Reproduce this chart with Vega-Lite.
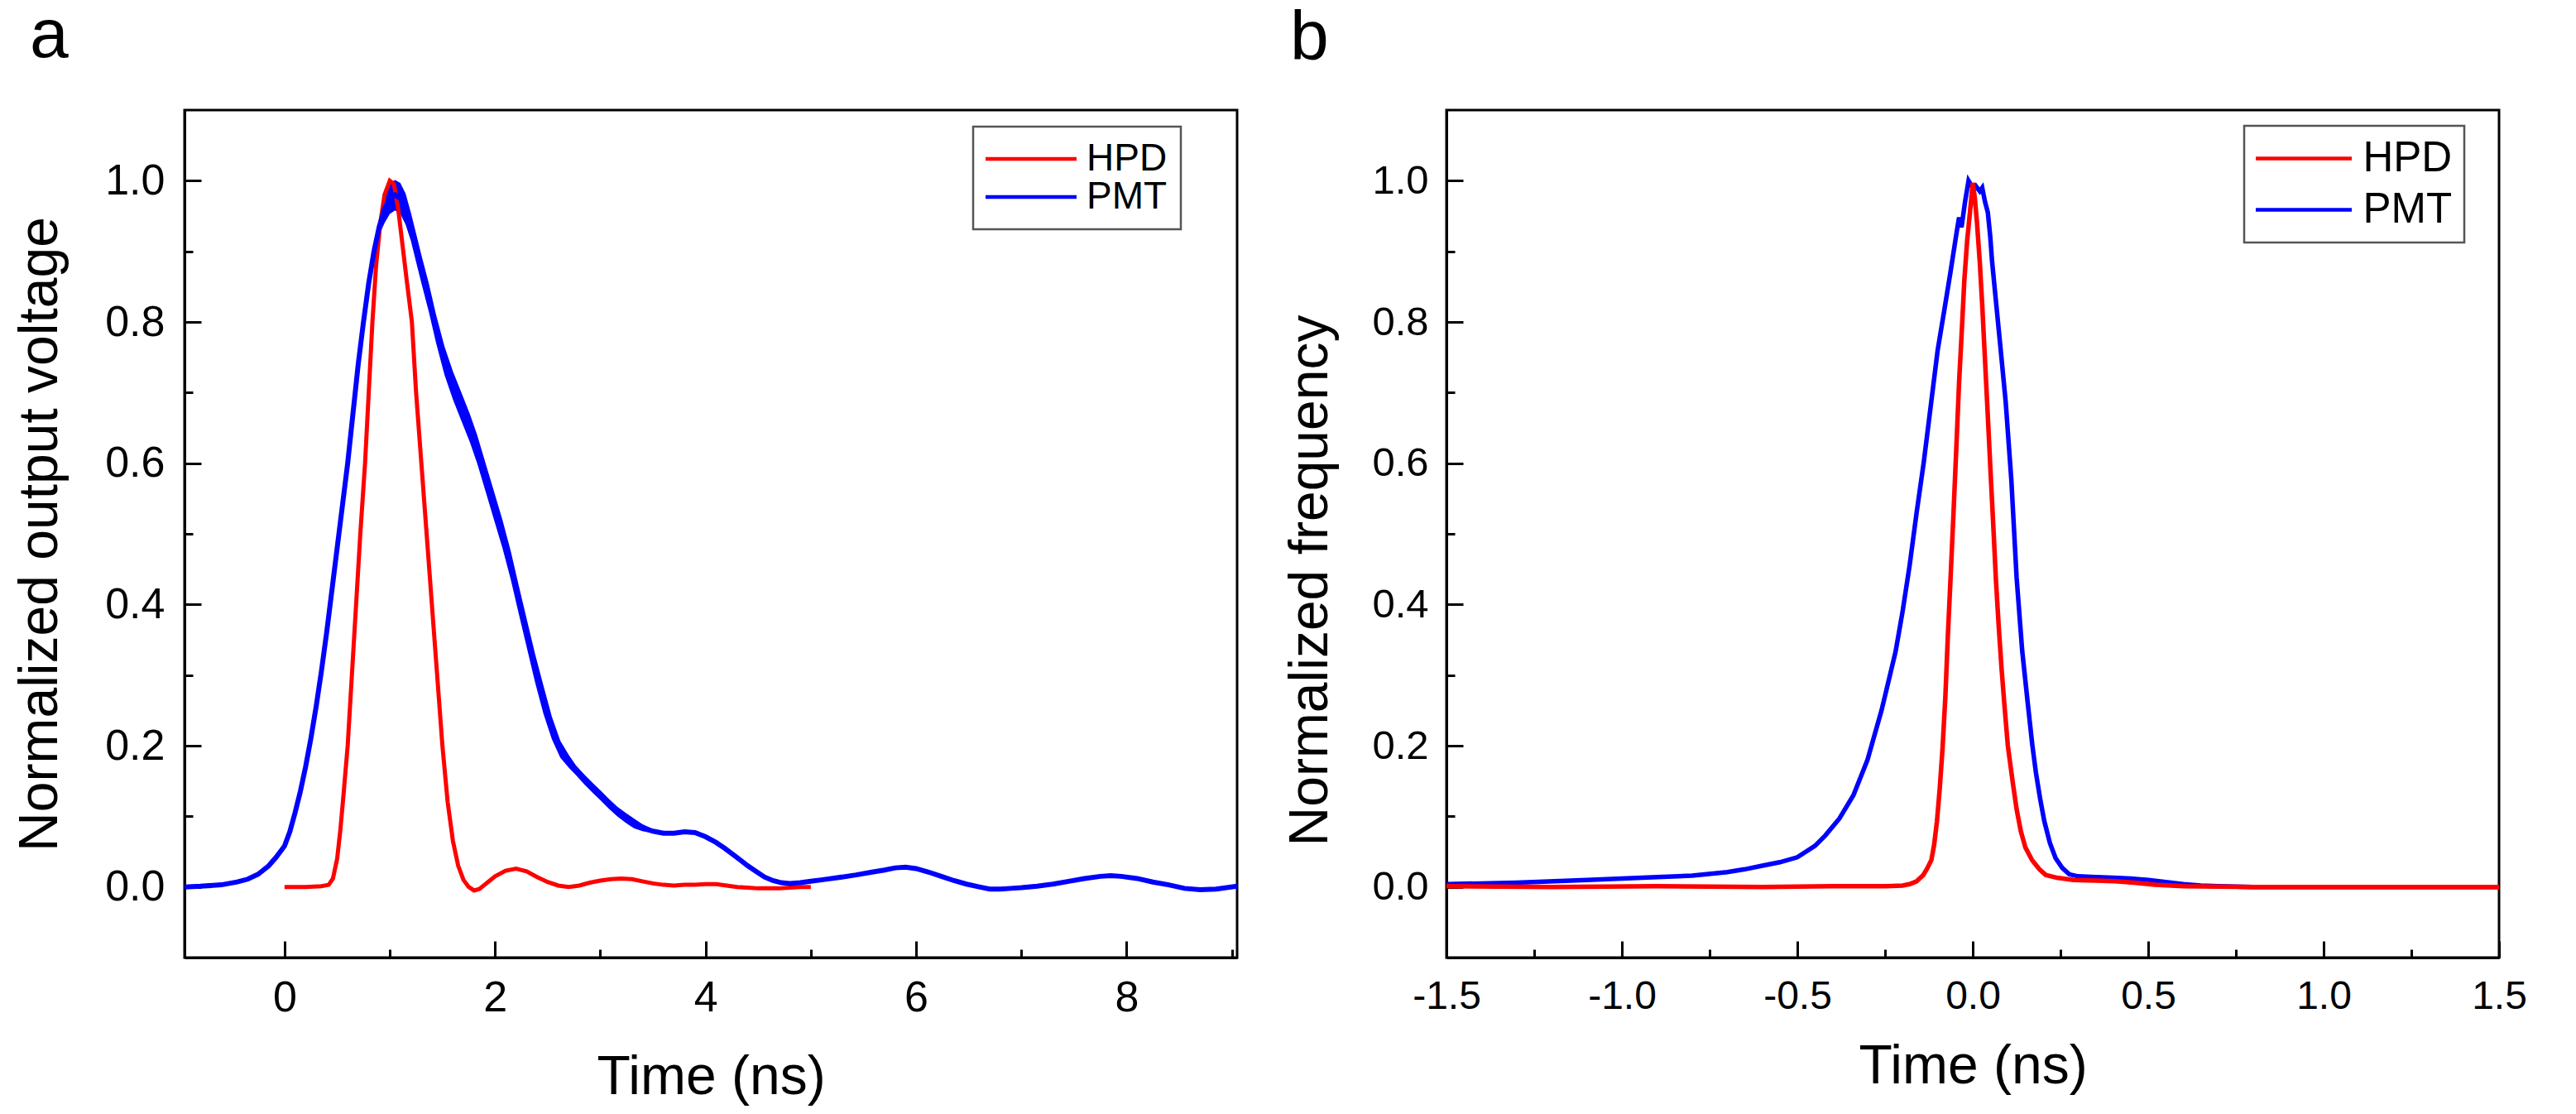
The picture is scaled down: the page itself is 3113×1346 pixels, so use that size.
{
  "$schema": "https://vega.github.io/schema/vega-lite/v6.json",
  "background": "white",
  "padding": {"left": 13, "top": 0, "right": 10, "bottom": 0},
  "config": {
    "view": {"stroke": "black", "strokeWidth": 3},
    "axis": {
      "grid": false,
      "domainColor": "black",
      "domainWidth": 3,
      "tickColor": "black",
      "tickWidth": 3,
      "labelFont": "Liberation Sans",
      "labelColor": "black",
      "labelFlush": false,
      "labelOverlap": false,
      "titleFont": "Liberation Sans",
      "titleColor": "black",
      "titleFontWeight": "normal"
    },
    "legend": {
      "labelFont": "Liberation Sans",
      "labelColor": "black",
      "strokeColor": "#555555"
    },
    "title": {
      "font": "Liberation Sans",
      "fontSize": 84,
      "fontWeight": "normal",
      "color": "black",
      "anchor": "start",
      "frame": "group",
      "baseline": "alphabetic"
    }
  },
  "datasets": {
    "a_lines": [
      {"t": 0, "v": 0, "det": "HPD"},
      {"t": 0.2, "v": 0, "det": "HPD"},
      {"t": 0.35, "v": 0.001, "det": "HPD"},
      {"t": 0.42, "v": 0.003, "det": "HPD"},
      {"t": 0.46, "v": 0.012, "det": "HPD"},
      {"t": 0.5, "v": 0.04, "det": "HPD"},
      {"t": 0.53, "v": 0.08, "det": "HPD"},
      {"t": 0.56, "v": 0.13, "det": "HPD"},
      {"t": 0.6, "v": 0.2, "det": "HPD"},
      {"t": 0.64, "v": 0.3, "det": "HPD"},
      {"t": 0.68, "v": 0.4, "det": "HPD"},
      {"t": 0.72, "v": 0.5, "det": "HPD"},
      {"t": 0.765, "v": 0.6, "det": "HPD"},
      {"t": 0.8, "v": 0.7, "det": "HPD"},
      {"t": 0.835, "v": 0.8, "det": "HPD"},
      {"t": 0.87, "v": 0.88, "det": "HPD"},
      {"t": 0.91, "v": 0.94, "det": "HPD"},
      {"t": 0.95, "v": 0.98, "det": "HPD"},
      {"t": 1.0, "v": 1.0, "det": "HPD"},
      {"t": 1.04, "v": 0.995, "det": "HPD"},
      {"t": 1.08, "v": 0.96, "det": "HPD"},
      {"t": 1.12, "v": 0.91, "det": "HPD"},
      {"t": 1.16, "v": 0.86, "det": "HPD"},
      {"t": 1.21, "v": 0.8, "det": "HPD"},
      {"t": 1.25, "v": 0.7, "det": "HPD"},
      {"t": 1.3, "v": 0.6, "det": "HPD"},
      {"t": 1.35, "v": 0.5, "det": "HPD"},
      {"t": 1.4, "v": 0.4, "det": "HPD"},
      {"t": 1.45, "v": 0.3, "det": "HPD"},
      {"t": 1.5, "v": 0.2, "det": "HPD"},
      {"t": 1.55, "v": 0.12, "det": "HPD"},
      {"t": 1.6, "v": 0.065, "det": "HPD"},
      {"t": 1.65, "v": 0.03, "det": "HPD"},
      {"t": 1.7, "v": 0.01, "det": "HPD"},
      {"t": 1.75, "v": 0.0, "det": "HPD"},
      {"t": 1.8, "v": -0.005, "det": "HPD"},
      {"t": 1.85, "v": -0.003, "det": "HPD"},
      {"t": 1.9, "v": 0.003, "det": "HPD"},
      {"t": 1.95, "v": 0.009, "det": "HPD"},
      {"t": 2.0, "v": 0.015, "det": "HPD"},
      {"t": 2.1, "v": 0.023, "det": "HPD"},
      {"t": 2.2, "v": 0.026, "det": "HPD"},
      {"t": 2.3, "v": 0.022, "det": "HPD"},
      {"t": 2.4, "v": 0.014, "det": "HPD"},
      {"t": 2.5, "v": 0.007, "det": "HPD"},
      {"t": 2.6, "v": 0.002, "det": "HPD"},
      {"t": 2.7, "v": 0.0, "det": "HPD"},
      {"t": 2.8, "v": 0.002, "det": "HPD"},
      {"t": 2.9, "v": 0.006, "det": "HPD"},
      {"t": 3.0, "v": 0.009, "det": "HPD"},
      {"t": 3.1, "v": 0.011, "det": "HPD"},
      {"t": 3.2, "v": 0.012, "det": "HPD"},
      {"t": 3.3, "v": 0.011, "det": "HPD"},
      {"t": 3.4, "v": 0.008, "det": "HPD"},
      {"t": 3.5, "v": 0.005, "det": "HPD"},
      {"t": 3.6, "v": 0.003, "det": "HPD"},
      {"t": 3.7, "v": 0.002, "det": "HPD"},
      {"t": 3.8, "v": 0.003, "det": "HPD"},
      {"t": 3.9, "v": 0.003, "det": "HPD"},
      {"t": 4.0, "v": 0.004, "det": "HPD"},
      {"t": 4.1, "v": 0.004, "det": "HPD"},
      {"t": 4.2, "v": 0.002, "det": "HPD"},
      {"t": 4.3, "v": 0.0, "det": "HPD"},
      {"t": 4.4, "v": -0.001, "det": "HPD"},
      {"t": 4.5, "v": -0.002, "det": "HPD"},
      {"t": 4.6, "v": -0.002, "det": "HPD"},
      {"t": 4.7, "v": -0.002, "det": "HPD"},
      {"t": 4.8, "v": -0.001, "det": "HPD"},
      {"t": 4.9, "v": 0.0, "det": "HPD"},
      {"t": 5.0, "v": 0.0, "det": "HPD"},
      {"t": -0.95, "v": 0.0, "det": "PMT"},
      {"t": -0.8, "v": 0.001, "det": "PMT"},
      {"t": -0.6, "v": 0.003, "det": "PMT"},
      {"t": -0.45, "v": 0.007, "det": "PMT"},
      {"t": -0.35, "v": 0.011, "det": "PMT"},
      {"t": -0.25, "v": 0.018, "det": "PMT"},
      {"t": -0.15, "v": 0.03, "det": "PMT"},
      {"t": -0.08, "v": 0.042, "det": "PMT"},
      {"t": 0.0, "v": 0.058, "det": "PMT"},
      {"t": 0.05, "v": 0.078, "det": "PMT"},
      {"t": 0.1, "v": 0.105, "det": "PMT"},
      {"t": 0.15, "v": 0.135, "det": "PMT"},
      {"t": 0.2, "v": 0.17, "det": "PMT"},
      {"t": 0.25, "v": 0.21, "det": "PMT"},
      {"t": 0.3, "v": 0.255, "det": "PMT"},
      {"t": 0.35, "v": 0.305, "det": "PMT"},
      {"t": 0.4, "v": 0.36, "det": "PMT"},
      {"t": 0.45, "v": 0.42, "det": "PMT"},
      {"t": 0.5, "v": 0.48, "det": "PMT"},
      {"t": 0.55, "v": 0.54, "det": "PMT"},
      {"t": 0.6, "v": 0.6, "det": "PMT"},
      {"t": 0.65, "v": 0.67, "det": "PMT"},
      {"t": 0.7, "v": 0.74, "det": "PMT"},
      {"t": 0.75, "v": 0.8, "det": "PMT"},
      {"t": 0.8, "v": 0.855, "det": "PMT"},
      {"t": 0.85, "v": 0.9, "det": "PMT"},
      {"t": 0.9, "v": 0.935, "det": "PMT"},
      {"t": 0.95, "v": 0.96, "det": "PMT"},
      {"t": 1.0, "v": 0.975, "det": "PMT"},
      {"t": 1.05, "v": 0.98, "det": "PMT"},
      {"t": 1.1, "v": 0.975, "det": "PMT"},
      {"t": 1.15, "v": 0.96, "det": "PMT"},
      {"t": 1.2, "v": 0.935, "det": "PMT"},
      {"t": 1.25, "v": 0.905, "det": "PMT"},
      {"t": 1.3, "v": 0.875, "det": "PMT"},
      {"t": 1.37, "v": 0.835, "det": "PMT"},
      {"t": 1.44, "v": 0.79, "det": "PMT"},
      {"t": 1.52, "v": 0.745, "det": "PMT"},
      {"t": 1.6, "v": 0.71, "det": "PMT"},
      {"t": 1.68, "v": 0.68, "det": "PMT"},
      {"t": 1.76, "v": 0.65, "det": "PMT"},
      {"t": 1.83, "v": 0.62, "det": "PMT"},
      {"t": 1.91, "v": 0.58, "det": "PMT"},
      {"t": 1.99, "v": 0.54, "det": "PMT"},
      {"t": 2.07, "v": 0.5, "det": "PMT"},
      {"t": 2.15, "v": 0.455, "det": "PMT"},
      {"t": 2.22, "v": 0.41, "det": "PMT"},
      {"t": 2.3, "v": 0.36, "det": "PMT"},
      {"t": 2.38, "v": 0.31, "det": "PMT"},
      {"t": 2.46, "v": 0.265, "det": "PMT"},
      {"t": 2.54, "v": 0.225, "det": "PMT"},
      {"t": 2.62, "v": 0.195, "det": "PMT"},
      {"t": 2.7, "v": 0.178, "det": "PMT"},
      {"t": 2.77, "v": 0.165, "det": "PMT"},
      {"t": 2.85, "v": 0.152, "det": "PMT"},
      {"t": 2.93, "v": 0.14, "det": "PMT"},
      {"t": 3.0, "v": 0.13, "det": "PMT"},
      {"t": 3.08, "v": 0.118, "det": "PMT"},
      {"t": 3.16, "v": 0.107, "det": "PMT"},
      {"t": 3.24, "v": 0.098, "det": "PMT"},
      {"t": 3.32, "v": 0.09, "det": "PMT"},
      {"t": 3.4, "v": 0.084, "det": "PMT"},
      {"t": 3.5, "v": 0.079, "det": "PMT"},
      {"t": 3.6, "v": 0.076, "det": "PMT"},
      {"t": 3.7, "v": 0.076, "det": "PMT"},
      {"t": 3.8, "v": 0.078, "det": "PMT"},
      {"t": 3.9, "v": 0.077, "det": "PMT"},
      {"t": 4.0, "v": 0.071, "det": "PMT"},
      {"t": 4.1, "v": 0.063, "det": "PMT"},
      {"t": 4.18, "v": 0.055, "det": "PMT"},
      {"t": 4.26, "v": 0.046, "det": "PMT"},
      {"t": 4.33, "v": 0.038, "det": "PMT"},
      {"t": 4.4, "v": 0.03, "det": "PMT"},
      {"t": 4.49, "v": 0.021, "det": "PMT"},
      {"t": 4.56, "v": 0.014, "det": "PMT"},
      {"t": 4.64, "v": 0.009, "det": "PMT"},
      {"t": 4.72, "v": 0.006, "det": "PMT"},
      {"t": 4.8, "v": 0.005, "det": "PMT"},
      {"t": 4.9, "v": 0.006, "det": "PMT"},
      {"t": 5.0, "v": 0.008, "det": "PMT"},
      {"t": 5.1, "v": 0.01, "det": "PMT"},
      {"t": 5.25, "v": 0.013, "det": "PMT"},
      {"t": 5.43, "v": 0.017, "det": "PMT"},
      {"t": 5.58, "v": 0.021, "det": "PMT"},
      {"t": 5.7, "v": 0.024, "det": "PMT"},
      {"t": 5.8, "v": 0.027, "det": "PMT"},
      {"t": 5.9, "v": 0.028, "det": "PMT"},
      {"t": 6.0, "v": 0.026, "det": "PMT"},
      {"t": 6.12, "v": 0.021, "det": "PMT"},
      {"t": 6.24, "v": 0.015, "det": "PMT"},
      {"t": 6.36, "v": 0.009, "det": "PMT"},
      {"t": 6.48, "v": 0.004, "det": "PMT"},
      {"t": 6.6, "v": 0.0, "det": "PMT"},
      {"t": 6.7, "v": -0.003, "det": "PMT"},
      {"t": 6.8, "v": -0.003, "det": "PMT"},
      {"t": 6.9, "v": -0.002, "det": "PMT"},
      {"t": 7.0, "v": -0.001, "det": "PMT"},
      {"t": 7.15, "v": 0.001, "det": "PMT"},
      {"t": 7.3, "v": 0.004, "det": "PMT"},
      {"t": 7.45, "v": 0.008, "det": "PMT"},
      {"t": 7.6, "v": 0.012, "det": "PMT"},
      {"t": 7.75, "v": 0.015, "det": "PMT"},
      {"t": 7.85, "v": 0.016, "det": "PMT"},
      {"t": 7.95, "v": 0.015, "det": "PMT"},
      {"t": 8.1, "v": 0.012, "det": "PMT"},
      {"t": 8.25, "v": 0.007, "det": "PMT"},
      {"t": 8.4, "v": 0.003, "det": "PMT"},
      {"t": 8.55, "v": -0.002, "det": "PMT"},
      {"t": 8.7, "v": -0.004, "det": "PMT"},
      {"t": 8.85, "v": -0.003, "det": "PMT"},
      {"t": 9.05, "v": 0.001, "det": "PMT"}
    ],
    "a_band": [
      {"t": 0.85, "v": 0.9, "v2": 0.9},
      {"t": 0.9, "v": 0.923, "v2": 0.947},
      {"t": 0.95, "v": 0.94, "v2": 0.98},
      {"t": 1.0, "v": 0.953, "v2": 0.997},
      {"t": 1.05, "v": 0.958, "v2": 1.001},
      {"t": 1.1, "v": 0.953, "v2": 0.997},
      {"t": 1.15, "v": 0.938, "v2": 0.982},
      {"t": 1.2, "v": 0.915, "v2": 0.955},
      {"t": 1.25, "v": 0.885, "v2": 0.925},
      {"t": 1.3, "v": 0.855, "v2": 0.895},
      {"t": 1.37, "v": 0.815, "v2": 0.855},
      {"t": 1.44, "v": 0.77, "v2": 0.81},
      {"t": 1.52, "v": 0.725, "v2": 0.765},
      {"t": 1.6, "v": 0.69, "v2": 0.73},
      {"t": 1.68, "v": 0.66, "v2": 0.7},
      {"t": 1.76, "v": 0.63, "v2": 0.67},
      {"t": 1.83, "v": 0.6, "v2": 0.64},
      {"t": 1.91, "v": 0.56, "v2": 0.6},
      {"t": 1.99, "v": 0.52, "v2": 0.56},
      {"t": 2.07, "v": 0.48, "v2": 0.52},
      {"t": 2.15, "v": 0.435, "v2": 0.475},
      {"t": 2.22, "v": 0.39, "v2": 0.43},
      {"t": 2.3, "v": 0.34, "v2": 0.38},
      {"t": 2.38, "v": 0.29, "v2": 0.33},
      {"t": 2.46, "v": 0.245, "v2": 0.285},
      {"t": 2.54, "v": 0.209, "v2": 0.241},
      {"t": 2.62, "v": 0.183, "v2": 0.207},
      {"t": 2.7, "v": 0.169, "v2": 0.187},
      {"t": 2.77, "v": 0.158, "v2": 0.172},
      {"t": 2.85, "v": 0.145, "v2": 0.159},
      {"t": 2.93, "v": 0.133, "v2": 0.147},
      {"t": 3.0, "v": 0.123, "v2": 0.137},
      {"t": 3.08, "v": 0.111, "v2": 0.125},
      {"t": 3.16, "v": 0.1, "v2": 0.114},
      {"t": 3.24, "v": 0.091, "v2": 0.105},
      {"t": 3.32, "v": 0.083, "v2": 0.097},
      {"t": 3.4, "v": 0.079, "v2": 0.089},
      {"t": 3.5, "v": 0.076, "v2": 0.082},
      {"t": 3.6, "v": 0.075, "v2": 0.077},
      {"t": 3.7, "v": 0.076, "v2": 0.076}
    ],
    "b_lines": [
      {"t": -1.5, "v": 0.004, "det": "PMT"},
      {"t": -1.3, "v": 0.006, "det": "PMT"},
      {"t": -1.1, "v": 0.01, "det": "PMT"},
      {"t": -1.0, "v": 0.012, "det": "PMT"},
      {"t": -0.9, "v": 0.014, "det": "PMT"},
      {"t": -0.8, "v": 0.016, "det": "PMT"},
      {"t": -0.7, "v": 0.021, "det": "PMT"},
      {"t": -0.65, "v": 0.025, "det": "PMT"},
      {"t": -0.6, "v": 0.03, "det": "PMT"},
      {"t": -0.55, "v": 0.035, "det": "PMT"},
      {"t": -0.5, "v": 0.042, "det": "PMT"},
      {"t": -0.45, "v": 0.058, "det": "PMT"},
      {"t": -0.42, "v": 0.073, "det": "PMT"},
      {"t": -0.38, "v": 0.097, "det": "PMT"},
      {"t": -0.34, "v": 0.13, "det": "PMT"},
      {"t": -0.3, "v": 0.18, "det": "PMT"},
      {"t": -0.26, "v": 0.25, "det": "PMT"},
      {"t": -0.22, "v": 0.333, "det": "PMT"},
      {"t": -0.2, "v": 0.39, "det": "PMT"},
      {"t": -0.18, "v": 0.455, "det": "PMT"},
      {"t": -0.16, "v": 0.53, "det": "PMT"},
      {"t": -0.14, "v": 0.6, "det": "PMT"},
      {"t": -0.12, "v": 0.68, "det": "PMT"},
      {"t": -0.1, "v": 0.76, "det": "PMT"},
      {"t": -0.08, "v": 0.82, "det": "PMT"},
      {"t": -0.063, "v": 0.872, "det": "PMT"},
      {"t": -0.045, "v": 0.93, "det": "PMT"},
      {"t": -0.039, "v": 0.948, "det": "PMT"},
      {"t": -0.032, "v": 0.934, "det": "PMT"},
      {"t": -0.022, "v": 0.97, "det": "PMT"},
      {"t": -0.012, "v": 1.0, "det": "PMT"},
      {"t": 0.0, "v": 0.99, "det": "PMT"},
      {"t": 0.008, "v": 0.993, "det": "PMT"},
      {"t": 0.02, "v": 0.985, "det": "PMT"},
      {"t": 0.027, "v": 0.99, "det": "PMT"},
      {"t": 0.035, "v": 0.97, "det": "PMT"},
      {"t": 0.043, "v": 0.955, "det": "PMT"},
      {"t": 0.05, "v": 0.92, "det": "PMT"},
      {"t": 0.055, "v": 0.886, "det": "PMT"},
      {"t": 0.066, "v": 0.83, "det": "PMT"},
      {"t": 0.078, "v": 0.769, "det": "PMT"},
      {"t": 0.094, "v": 0.686, "det": "PMT"},
      {"t": 0.11, "v": 0.576, "det": "PMT"},
      {"t": 0.125, "v": 0.438, "det": "PMT"},
      {"t": 0.141, "v": 0.334, "det": "PMT"},
      {"t": 0.157, "v": 0.259, "det": "PMT"},
      {"t": 0.17, "v": 0.2, "det": "PMT"},
      {"t": 0.18, "v": 0.162, "det": "PMT"},
      {"t": 0.192, "v": 0.125, "det": "PMT"},
      {"t": 0.204, "v": 0.093, "det": "PMT"},
      {"t": 0.22, "v": 0.062, "det": "PMT"},
      {"t": 0.236, "v": 0.041, "det": "PMT"},
      {"t": 0.255, "v": 0.027, "det": "PMT"},
      {"t": 0.275, "v": 0.018, "det": "PMT"},
      {"t": 0.3, "v": 0.015, "det": "PMT"},
      {"t": 0.35, "v": 0.014, "det": "PMT"},
      {"t": 0.4, "v": 0.013, "det": "PMT"},
      {"t": 0.45, "v": 0.012, "det": "PMT"},
      {"t": 0.5, "v": 0.01, "det": "PMT"},
      {"t": 0.55, "v": 0.007, "det": "PMT"},
      {"t": 0.6, "v": 0.004, "det": "PMT"},
      {"t": 0.65, "v": 0.002, "det": "PMT"},
      {"t": 0.7, "v": 0.001, "det": "PMT"},
      {"t": 0.8, "v": 0.0, "det": "PMT"},
      {"t": 1.0, "v": 0.0, "det": "PMT"},
      {"t": 1.2, "v": 0.0, "det": "PMT"},
      {"t": 1.5, "v": 0.0, "det": "PMT"},
      {"t": -1.5, "v": 0.001, "det": "HPD"},
      {"t": -1.2, "v": 0.0, "det": "HPD"},
      {"t": -0.9, "v": 0.001, "det": "HPD"},
      {"t": -0.6, "v": 0.0, "det": "HPD"},
      {"t": -0.4, "v": 0.001, "det": "HPD"},
      {"t": -0.25, "v": 0.001, "det": "HPD"},
      {"t": -0.2, "v": 0.002, "det": "HPD"},
      {"t": -0.18, "v": 0.004, "det": "HPD"},
      {"t": -0.16, "v": 0.008, "det": "HPD"},
      {"t": -0.141, "v": 0.017, "det": "HPD"},
      {"t": -0.13, "v": 0.026, "det": "HPD"},
      {"t": -0.118, "v": 0.038, "det": "HPD"},
      {"t": -0.11, "v": 0.06, "det": "HPD"},
      {"t": -0.102, "v": 0.093, "det": "HPD"},
      {"t": -0.094, "v": 0.14, "det": "HPD"},
      {"t": -0.086, "v": 0.197, "det": "HPD"},
      {"t": -0.078, "v": 0.27, "det": "HPD"},
      {"t": -0.071, "v": 0.355, "det": "HPD"},
      {"t": -0.063, "v": 0.44, "det": "HPD"},
      {"t": -0.055, "v": 0.528, "det": "HPD"},
      {"t": -0.047, "v": 0.62, "det": "HPD"},
      {"t": -0.039, "v": 0.714, "det": "HPD"},
      {"t": -0.031, "v": 0.79, "det": "HPD"},
      {"t": -0.024, "v": 0.859, "det": "HPD"},
      {"t": -0.016, "v": 0.915, "det": "HPD"},
      {"t": -0.008, "v": 0.955, "det": "HPD"},
      {"t": 0.0, "v": 0.997, "det": "HPD"},
      {"t": 0.006, "v": 0.975, "det": "HPD"},
      {"t": 0.012, "v": 0.941, "det": "HPD"},
      {"t": 0.02, "v": 0.885, "det": "HPD"},
      {"t": 0.027, "v": 0.824, "det": "HPD"},
      {"t": 0.035, "v": 0.745, "det": "HPD"},
      {"t": 0.043, "v": 0.666, "det": "HPD"},
      {"t": 0.051, "v": 0.585, "det": "HPD"},
      {"t": 0.059, "v": 0.507, "det": "HPD"},
      {"t": 0.066, "v": 0.435, "det": "HPD"},
      {"t": 0.074, "v": 0.369, "det": "HPD"},
      {"t": 0.082, "v": 0.31, "det": "HPD"},
      {"t": 0.09, "v": 0.259, "det": "HPD"},
      {"t": 0.1, "v": 0.2, "det": "HPD"},
      {"t": 0.114, "v": 0.148, "det": "HPD"},
      {"t": 0.125, "v": 0.11, "det": "HPD"},
      {"t": 0.137, "v": 0.079, "det": "HPD"},
      {"t": 0.15, "v": 0.056, "det": "HPD"},
      {"t": 0.169, "v": 0.038, "det": "HPD"},
      {"t": 0.19, "v": 0.025, "det": "HPD"},
      {"t": 0.208, "v": 0.017, "det": "HPD"},
      {"t": 0.24, "v": 0.013, "det": "HPD"},
      {"t": 0.287, "v": 0.01, "det": "HPD"},
      {"t": 0.35, "v": 0.009, "det": "HPD"},
      {"t": 0.405, "v": 0.008, "det": "HPD"},
      {"t": 0.46, "v": 0.006, "det": "HPD"},
      {"t": 0.52, "v": 0.003, "det": "HPD"},
      {"t": 0.6, "v": 0.001, "det": "HPD"},
      {"t": 0.8, "v": 0.0, "det": "HPD"},
      {"t": 1.1, "v": 0.0, "det": "HPD"},
      {"t": 1.5, "v": 0.0, "det": "HPD"}
    ]
  },
  "spacing": 51,
  "resolve": {
    "scale": {"x": "independent", "y": "independent", "color": "independent"},
    "legend": {"color": "independent"}
  },
  "hconcat": [
    {
      "width": 1272,
      "height": 1024,
      "title": {"text": "a", "offset": 46, "dx": -187},
      "encoding": {
        "x": {
          "field": "t",
          "type": "quantitative",
          "title": "Time (ns)",
          "scale": {"domain": [-0.95, 9.05], "nice": false, "zero": false},
          "axis": {
            "values": [0, 1, 2, 3, 4, 5, 6, 7, 8, 9],
            "labelExpr": "datum.value % 2 == 0 ? format(datum.value, 'd') : ''",
            "tickSize": {"condition": {"test": "datum.value % 2 == 0", "value": -20}, "value": -10},
            "labelFontSize": 52,
            "labelPadding": 43,
            "titleFontSize": 66,
            "titleBaseline": "alphabetic",
            "titleY": 164
          }
        },
        "y": {
          "field": "v",
          "type": "quantitative",
          "title": "Normalized output voltage",
          "scale": {"domain": [-0.1, 1.1], "nice": false, "zero": false},
          "axis": {
            "values": [0, 0.1, 0.2, 0.3, 0.4, 0.5, 0.6, 0.7, 0.8, 0.9, 1.0],
            "labelExpr": "round(datum.value * 10) % 2 == 0 ? format(datum.value, '.1f') : ''",
            "tickSize": {"condition": {"test": "round(datum.value * 10) % 2 == 0", "value": -20}, "value": -10},
            "labelFontSize": 52,
            "labelPadding": 44,
            "titleFontSize": 66,
            "titleBaseline": "alphabetic",
            "titleAlign": "center",
            "titleAngle": -90,
            "titleX": -155,
            "titleY": 512
          }
        }
      },
      "layer": [
        {
          "data": {"name": "a_band"},
          "mark": {"type": "area", "color": "#0000ff", "clip": true},
          "encoding": {"y2": {"field": "v2"}}
        },
        {
          "data": {"name": "a_lines"},
          "transform": [{"filter": "datum.det == 'HPD'"}],
          "mark": {"type": "line", "strokeWidth": 5, "clip": true},
          "encoding": {
            "color": {
              "field": "det",
              "type": "nominal",
              "scale": {"domain": ["HPD", "PMT"], "range": ["#ff0000", "#0000ff"]},
              "legend": {
                "orient": "none",
                "legendX": 953,
                "legendY": 20,
                "title": null,
                "symbolType": "M-3,0H3",
                "symbolSize": 1344,
                "symbolStrokeWidth": 4.5,
                "symbolOffset": 31,
                "labelFontSize": 46,
                "labelOffset": 44,
                "rowPadding": -6,
                "padding": 16,
                "encode": {"legend": {"update": {"strokeWidth": {"value": 2.5}}}}
              }
            }
          }
        },
        {
          "data": {"name": "a_lines"},
          "transform": [{"filter": "datum.det == 'PMT'"}],
          "mark": {"type": "line", "strokeWidth": 6, "clip": true},
          "encoding": {
            "color": {
              "field": "det",
              "type": "nominal",
              "scale": {"domain": ["HPD", "PMT"], "range": ["#ff0000", "#0000ff"]},
              "legend": {
                "orient": "none",
                "legendX": 953,
                "legendY": 20,
                "title": null,
                "symbolType": "M-3,0H3",
                "symbolSize": 1344,
                "symbolStrokeWidth": 4.5,
                "symbolOffset": 31,
                "labelFontSize": 46,
                "labelOffset": 44,
                "rowPadding": -6,
                "padding": 16,
                "encode": {"legend": {"update": {"strokeWidth": {"value": 2.5}}}}
              }
            }
          }
        }
      ]
    },
    {
      "width": 1272,
      "height": 1024,
      "title": {"text": "b", "offset": 43, "dx": -189},
      "encoding": {
        "x": {
          "field": "t",
          "type": "quantitative",
          "title": "Time (ns)",
          "scale": {"domain": [-1.5, 1.5], "nice": false, "zero": false},
          "axis": {
            "values": [-1.5, -1.25, -1, -0.75, -0.5, -0.25, 0, 0.25, 0.5, 0.75, 1, 1.25, 1.5],
            "labelExpr": "round(datum.value * 4) % 2 == 0 ? replace(format(datum.value, '.1f'), '\u2212', '-') : ''",
            "tickSize": {"condition": {"test": "round(datum.value * 4) % 2 == 0", "value": -20}, "value": -10},
            "labelFontSize": 48,
            "labelPadding": 43,
            "titleFontSize": 66,
            "titleBaseline": "alphabetic",
            "titleY": 151
          }
        },
        "y": {
          "field": "v",
          "type": "quantitative",
          "title": "Normalized frequency",
          "scale": {"domain": [-0.1, 1.1], "nice": false, "zero": false},
          "axis": {
            "values": [0, 0.1, 0.2, 0.3, 0.4, 0.5, 0.6, 0.7, 0.8, 0.9, 1.0],
            "labelExpr": "round(datum.value * 10) % 2 == 0 ? format(datum.value, '.1f') : ''",
            "tickSize": {"condition": {"test": "round(datum.value * 10) % 2 == 0", "value": -20}, "value": -10},
            "labelFontSize": 49,
            "labelPadding": 42,
            "titleFontSize": 66,
            "titleBaseline": "alphabetic",
            "titleAlign": "center",
            "titleAngle": -90,
            "titleX": -145,
            "titleY": 568
          }
        }
      },
      "layer": [
        {
          "data": {"name": "b_lines"},
          "transform": [{"filter": "datum.det == 'PMT'"}],
          "mark": {"type": "line", "strokeWidth": 5.5, "clip": true},
          "encoding": {
            "color": {
              "field": "det",
              "type": "nominal",
              "scale": {"domain": ["HPD", "PMT"], "range": ["#ff0000", "#0000ff"]},
              "legend": {
                "orient": "none",
                "legendX": 964,
                "legendY": 19,
                "title": null,
                "symbolType": "M-3,0H3",
                "symbolSize": 1495,
                "symbolStrokeWidth": 4.5,
                "symbolOffset": 32.5,
                "labelFontSize": 51,
                "labelOffset": 46,
                "rowPadding": 10,
                "padding": 14,
                "encode": {"legend": {"update": {"strokeWidth": {"value": 2.5}}}}
              }
            }
          }
        },
        {
          "data": {"name": "b_lines"},
          "transform": [{"filter": "datum.det == 'HPD'"}],
          "mark": {"type": "line", "strokeWidth": 5.5, "clip": true},
          "encoding": {
            "color": {
              "field": "det",
              "type": "nominal",
              "scale": {"domain": ["HPD", "PMT"], "range": ["#ff0000", "#0000ff"]},
              "legend": {
                "orient": "none",
                "legendX": 964,
                "legendY": 19,
                "title": null,
                "symbolType": "M-3,0H3",
                "symbolSize": 1495,
                "symbolStrokeWidth": 4.5,
                "symbolOffset": 32.5,
                "labelFontSize": 51,
                "labelOffset": 46,
                "rowPadding": 10,
                "padding": 14,
                "encode": {"legend": {"update": {"strokeWidth": {"value": 2.5}}}}
              }
            }
          }
        }
      ]
    }
  ]
}
